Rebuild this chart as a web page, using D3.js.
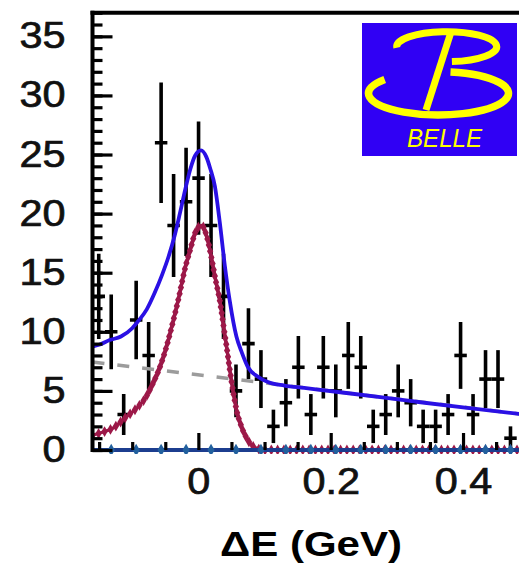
<!DOCTYPE html>
<html>
<head>
<meta charset="utf-8">
<script src="https://cdn.jsdelivr.net/npm/d3@7"></script>
<style>
  html, body { margin: 0; padding: 0; background: #ffffff; }
  svg { display: block; }
</style>
</head>
<body>
<svg id="chart" width="519" height="566"></svg>
<script>
// ΔE distribution of B candidates: event counts per bin with the fit overlaid.

// Histogram binning (GeV) and event counts per bin
const binLow = -0.16;
const binWidth = 0.66 / 35;
const counts = [13, 10, 3, 11, 8, 26, 19, 21, 23, 19, 13, 5, 9, 6, 2, 4, 7,
                3, 7, 5, 8, 7, 2, 3, 5, 4, 2, 2, 3, 8, 3, 6, 6, 1];

// Total fit (signal + background)
const totalX = [-0.160, -0.150, -0.134, -0.117, -0.100, -0.091, -0.078, -0.066, -0.055,
                -0.046, -0.036, -0.028, -0.020, -0.012, -0.005, 0.004, 0.012, 0.018,
                0.025, 0.0325, 0.040, 0.0475, 0.0575, 0.066, 0.075, 0.090, 0.105,
                0.130, 0.160, 0.230, 0.320, 0.400, 0.500];
const totalY = [8.75, 8.9, 9.3, 9.6, 10.3, 10.9, 11.9, 13.3, 14.8,
                16.2, 18.1, 20.0, 22.0, 23.8, 24.9, 25.35, 24.8, 23.8,
                22.3, 19.2, 15.6, 12.6, 9.6, 8.2, 7.0, 6.2, 5.75,
                5.45, 5.25, 4.78, 4.15, 3.6, 2.95];

// Signal component
const signalX = [-0.160, -0.145, -0.129, -0.109, -0.094, -0.079, -0.069, -0.061, -0.050,
                 -0.039, -0.030, -0.020, -0.012, -0.004, 0.005, 0.013, 0.020, 0.026,
                 0.0325, 0.038, 0.043, 0.048, 0.053, 0.058, 0.065, 0.072, 0.080,
                 0.090, 0.100, 0.150, 0.200, 0.250, 0.300, 0.350, 0.400, 0.450, 0.500];
const signalY = [1.25, 1.5, 1.85, 2.8, 3.5, 4.5, 5.6, 6.6, 8.4,
                 10.7, 12.8, 15.4, 17.0, 18.5, 19.0, 18.0, 16.2, 14.4,
                 12.6, 10.5, 8.6, 6.6, 4.8, 3.3, 2.0, 1.1, 0.45,
                 0.1, 0.0, 0, 0, 0, 0, 0, 0, 0, 0];

// Linear background component
const backgroundX = [-0.16, 0.50];
const backgroundY = [7.45, 2.95];

// Axis ticks
const xMajorTicks = [0, 0.2, 0.4];
const xMinorTicks = [-0.15, -0.1, -0.05, 0.05, 0.1, 0.15, 0.25, 0.3, 0.35, 0.45, 0.5];
const yMajorTicks = [0, 5, 10, 15, 20, 25, 30, 35];
const yMinorTicks = d3.range(0, 38, 1);

const svg = d3.select("#chart");
const W = 519, H = 566;

const x = d3.scaleLinear().domain([-0.16, 0.5]).range([92.5, 529.2]);
const y = d3.scaleLinear().domain([0, 37]).range([450, 12.7]);

const FONT = "'Liberation Sans', Arial, Helvetica, sans-serif";

svg.append("defs").append("clipPath").attr("id", "plotClip")
  .append("rect").attr("x", 92.5).attr("y", 0).attr("width", W - 92.5).attr("height", 454);

const plot = svg.append("g").attr("clip-path", "url(#plotClip)");

// Data points with Poisson error bars
const bins = counts.map((c, i) => ({
  lo: binLow + i * binWidth,
  hi: binLow + (i + 1) * binWidth,
  mid: binLow + (i + 0.5) * binWidth,
  n: c,
  err: Math.sqrt(c)
}));

const pts = plot.append("g").attr("stroke", "#000").attr("stroke-width", 3.6);
pts.selectAll("line.v").data(bins).join("line").attr("class", "v")
  .attr("x1", d => x(d.mid)).attr("x2", d => x(d.mid))
  .attr("y1", d => y(Math.max(0, d.n - d.err))).attr("y2", d => y(d.n + d.err));
pts.selectAll("line.h").data(bins).join("line").attr("class", "h")
  .attr("x1", d => x(d.lo)).attr("x2", d => x(d.hi))
  .attr("y1", d => y(d.n)).attr("y2", d => y(d.n));

// Background (dashed gray)
const bgLine = d3.line().x(d => x(d[0])).y(d => y(d[1]));
plot.append("path")
  .attr("d", bgLine(d3.zip(backgroundX, backgroundY)))
  .attr("fill", "none").attr("stroke", "#9c9c9c").attr("stroke-width", 3.5)
  .attr("stroke-dasharray", "12,13");

// Signal (maroon, with markers along the curve)
const smooth = d3.line().x(d => x(d[0])).y(d => y(d[1])).curve(d3.curveMonotoneX);
const sigPath = plot.append("path")
  .attr("d", smooth(d3.zip(signalX, signalY)))
  .attr("fill", "none").attr("stroke", "#9c1848").attr("stroke-width", 3.2);
const sigNode = sigPath.node();
const sigLen = sigNode.getTotalLength();
const sigMarks = d3.range(0, sigLen, 6.3).map(l => sigNode.getPointAtLength(l));
plot.append("g").selectAll("path").data(sigMarks).join("path")
  .attr("transform", p => `translate(${p.x},${p.y})`)
  .attr("d", d3.symbol(d3.symbolDiamond, 34)())
  .attr("fill", "#9c1848");

// Total fit (blue)
plot.append("path")
  .attr("d", smooth(d3.zip(totalX, totalY)))
  .attr("fill", "none").attr("stroke", "#2a10e4").attr("stroke-width", 3.8);

// Zero-level component along the baseline
plot.append("line")
  .attr("x1", 92.5).attr("x2", W).attr("y1", y(0)).attr("y2", y(0))
  .attr("stroke", "#1c3d8f").attr("stroke-width", 4);
plot.append("g").selectAll("path").data(bins.filter((d, i) => i % 2 === 1)).join("path")
  .attr("transform", d => `translate(${x(d.mid)},${y(0)})`)
  .attr("d", d3.symbol(d3.symbolDiamond, 45)())
  .attr("fill", "#22609e");

// Axes
function styleAxis(g) {
  g.select(".domain").remove();
  g.selectAll(".tick line").attr("stroke", "#000").attr("stroke-width", 3.2);
}

const yMinor = svg.append("g").attr("transform", "translate(92.5,0)")
  .call(d3.axisLeft(y).tickValues(yMinorTicks).tickSize(-10).tickFormat(""))
  .call(styleAxis);
const yMajor = svg.append("g").attr("transform", "translate(92.5,0)")
  .call(d3.axisLeft(y).tickValues(yMajorTicks).tickSize(-20).tickPadding(27).tickFormat(d3.format("d")))
  .call(styleAxis);

const xMinor = svg.append("g").attr("transform", `translate(0,${y(0)})`)
  .call(d3.axisBottom(x).tickValues(xMinorTicks).tickSize(-8).tickFormat(""))
  .call(styleAxis);
const xMajor = svg.append("g").attr("transform", `translate(0,${y(0)})`)
  .call(d3.axisBottom(x).tickValues(xMajorTicks).tickSize(-17).tickPadding(18)
        .tickFormat(d => d === 0 ? "0" : d3.format(".1f")(d)))
  .call(styleAxis);

[yMajor, xMajor].forEach(g => {
  g.selectAll(".tick text")
    .attr("font-family", FONT).attr("font-size", 36).attr("fill", "#111")
    .attr("stroke", "#111").attr("stroke-width", 0.7)
    .each(function () {
      const w = this.getComputedTextLength();
      d3.select(this).attr("textLength", w * 1.15).attr("lengthAdjust", "spacingAndGlyphs");
    });
});
xMajor.selectAll(".tick text").attr("y", 18);

// Frame: left axis line and top border
svg.append("line").attr("x1", 92.5).attr("x2", 92.5).attr("y1", 10.7).attr("y2", 452)
  .attr("stroke", "#000").attr("stroke-width", 4);
svg.append("line").attr("x1", 90.5).attr("x2", W).attr("y1", 12.7).attr("y2", 12.7)
  .attr("stroke", "#000").attr("stroke-width", 4);

// Axis title
const title = svg.append("text")
  .attr("x", 311).attr("y", 556)
  .attr("text-anchor", "middle")
  .attr("font-family", FONT).attr("font-size", 35).attr("font-weight", "bold")
  .attr("fill", "#000")
  .text("ΔE (GeV)");
title.attr("textLength", 182).attr("lengthAdjust", "spacingAndGlyphs");

// Belle logo
const logo = svg.append("g");
logo.append("rect").attr("x", 362).attr("y", 23).attr("width", 155).attr("height", 133)
  .attr("fill", "#3000f4");
const yellow = "#ffff00";
logo.append("path")
  .attr("d", "M396.8,47.7 A50,15 0 1 1 451.9,61.6")
  .attr("fill", "none").attr("stroke", yellow).attr("stroke-width", 7);
logo.append("path")
  .attr("d", "M384.7,79.4 A70,21.7 0 1 0 450.5,71.9")
  .attr("fill", "none").attr("stroke", yellow).attr("stroke-width", 7.5);
logo.append("line")
  .attr("x1", 451).attr("y1", 32).attr("x2", 426).attr("y2", 110)
  .attr("stroke", yellow).attr("stroke-width", 7);
logo.append("text")
  .attr("x", 407).attr("y", 147)
  .attr("font-family", FONT).attr("font-size", 25).attr("font-style", "italic")
  .attr("fill", yellow)
  .attr("textLength", 75).attr("lengthAdjust", "spacingAndGlyphs")
  .text("BELLE");
</script>
</body>
</html>
